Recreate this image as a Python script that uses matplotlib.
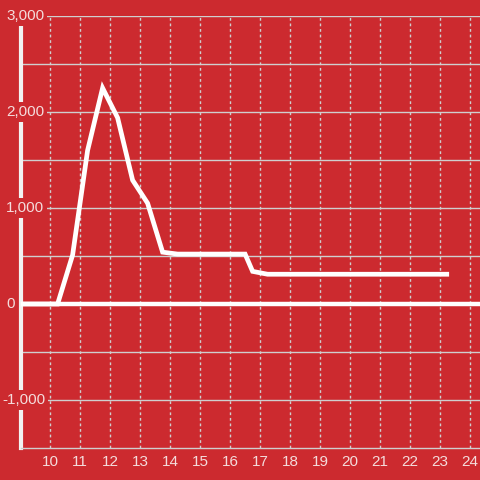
import matplotlib.pyplot as plt
import matplotlib.transforms as mtransforms

# hour of day vs value
hours = [9.0, 10.25, 10.75, 11.25, 11.75, 12.25, 12.75, 13.25, 13.75, 14.25,
         16.5, 16.75, 17.25, 23.3]
values = [0, 0, 510, 1600, 2250, 1940, 1290, 1050, 540, 520,
          520, 340, 310, 310]

xticks = list(range(10, 25))
yticks = [-1000, 0, 1000, 2000, 3000]
ytick_labels = ['-1,000', '0', '1,000', '2,000', '3,000']
minor_grid = [-500, 500, 1500, 2500]

bg = '#cc2a2f'
pale = '#f4dcdc'
grid_col = '#cfcfcf'

plt.rcParams['font.family'] = ['Liberation Sans', 'DejaVu Sans']

fig = plt.figure(figsize=(4.8, 4.8), dpi=100)
fig.patch.set_facecolor(bg)
ax = fig.add_axes([21 / 480, 32 / 480, 459 / 480, 432 / 480])
ax.set_facecolor(bg)

ax.set_xlim(9.03, 24.33)
ax.set_ylim(-1500, 3000)

# grid
for v in yticks + minor_grid:
    ax.axhline(v, color=grid_col, lw=1.0, zorder=1)
for h in xticks:
    ax.axvline(h, color=grid_col, lw=1.0, ls=(0, (2, 2)), zorder=1)

# zero line
ax.axhline(0, color='white', lw=3.2, zorder=3)

ax.plot(hours, values, color='white', lw=3.4, solid_joinstyle='miter',
        solid_capstyle='butt', zorder=4)

for s in ['top', 'right']:
    ax.spines[s].set_visible(False)
ax.spines['bottom'].set_color(grid_col)
ax.spines['bottom'].set_linewidth(1.0)
ax.spines['left'].set_color('#f2f2f2')
ax.spines['left'].set_linewidth(3.0)
ax.spines['left'].set_bounds(-1500, 2917)
ax.spines['left'].set_zorder(2)

ax.set_xticks(xticks)
ax.set_xticklabels([str(h) for h in xticks])
ax.tick_params(axis='x', length=0, pad=5, labelsize=11, labelcolor=pale)
ax.set_yticks([])

# y labels sit over the spine with a box in the background colour
for v, lab in zip(yticks, ytick_labels):
    dx = 2 if lab.startswith('-') else 6
    tr = mtransforms.blended_transform_factory(fig.dpi_scale_trans, ax.transData)
    ax.text(dx / 100, v, lab, transform=tr, ha='left', va='center',
            fontsize=11, color=pale, zorder=5, clip_on=False,
            bbox=dict(facecolor=bg, edgecolor='none', pad=2))

fig.savefig('out.png', dpi=100, facecolor=bg)
